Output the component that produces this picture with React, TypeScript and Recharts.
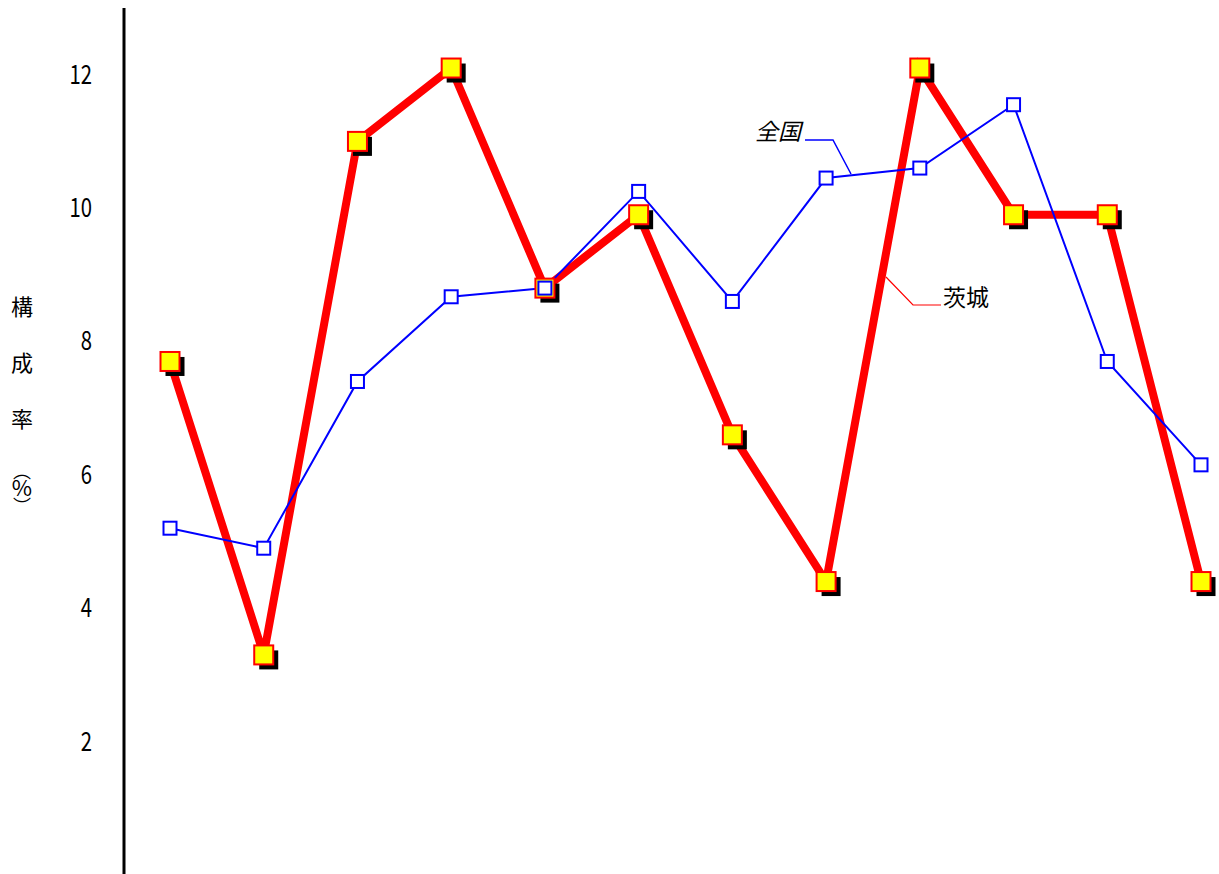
import React from 'react';
import { LineChart, Line, XAxis, YAxis, Customized } from 'recharts';

const categories = ['1', '2', '3', '4', '5', '6', '7', '8', '9', '10', '11', '12'];
const ibaraki = [7.7, 3.3, 11.0, 12.1, 8.8, 9.9, 6.6, 4.4, 12.1, 9.9, 9.9, 4.4];
const zenkoku = [5.2, 4.9, 7.4, 8.67, 8.8, 10.25, 8.6, 10.45, 10.6, 11.55, 7.7, 6.15];
const yTicks = [2, 4, 6, 8, 10, 12];
const yTitle = ['構', '成', '率'];

const data = categories.map((c, i) => ({ cat: c, ibaraki: ibaraki[i], zenkoku: zenkoku[i] }));

const FONT = '"Noto Sans CJK JP", "Noto Sans", sans-serif';

const RedDot = (props: any) => {
  const { cx, cy } = props;
  if (cx == null || cy == null) return null;
  const s = 19;
  return (
    <g>
      <rect x={cx - s / 2 + 5} y={cy - s / 2 + 5} width={s} height={s} fill="#000" />
      <rect x={cx - s / 2} y={cy - s / 2} width={s} height={s} fill="#ffff00" stroke="#ff0000" strokeWidth={2} />
    </g>
  );
};

const BlueDot = (props: any) => {
  const { cx, cy } = props;
  if (cx == null || cy == null) return null;
  const s = 13;
  return <rect x={cx - s / 2} y={cy - s / 2} width={s} height={s} fill="#fff" stroke="#0000ff" strokeWidth={2} />;
};

const YTick = (props: any) => {
  const { x, y, payload } = props;
  return (
    <text
      transform={`translate(${x},${y + 9}) scale(0.78,1)`}
      textAnchor="end"
      fontFamily={FONT}
      fontSize={26}
      fill="#000"
    >
      {payload.value}
    </text>
  );
};

const YTitle = () => (
  <g fontFamily={FONT} fontSize={22} fill="#000">
    {yTitle.map((ch, i) => (
      <text key={ch} x={22} y={315 + i * 56} textAnchor="middle">{ch}</text>
    ))}
    <text x={22} y={478} textAnchor="middle" fontSize={18}>︵</text>
    <text x={22} y={496} textAnchor="middle" fontSize={22}>%</text>
    <text x={22} y={513} textAnchor="middle" fontSize={18}>︶</text>
  </g>
);

const Annotations = () => (
  <g fontFamily={FONT} fontSize={23} fill="#000">
    <text x={801} y={140} textAnchor="end" fontStyle="italic">全国</text>
    <polyline points="805,140 833,140 851,174" fill="none" stroke="#0000ff" strokeWidth={1.5} />
    <text x={943} y={306} textAnchor="start">茨城</text>
    <polyline points="886,277 913,305 941,305" fill="none" stroke="#ff0000" strokeWidth={1.2} />
  </g>
);

export default function App() {
  return (
    <div style={{ position: 'absolute', left: 0, top: 0, background: '#fff' }}>
      <LineChart width={1219} height={880} data={data} margin={{ top: 8, right: 0, bottom: 5, left: 0 }}>
        <XAxis dataKey="cat" hide padding={{ left: 46, right: 18 }} />
        <YAxis
          domain={[0, 13]}
          ticks={yTicks}
          width={124}
          tickLine={false}
          tickSize={0}
          tickMargin={32}
          axisLine={{ stroke: '#000', strokeWidth: 3 }}
          tick={<YTick />}
          allowDataOverflow
        />
        <Line dataKey="ibaraki" stroke="#ff0000" strokeWidth={8} dot={<RedDot />} activeDot={false} isAnimationActive={false} />
        <Line dataKey="zenkoku" stroke="#0000ff" strokeWidth={2} dot={<BlueDot />} activeDot={false} isAnimationActive={false} />
        <Customized component={YTitle} />
        <Customized component={Annotations} />
      </LineChart>
    </div>
  );
}
